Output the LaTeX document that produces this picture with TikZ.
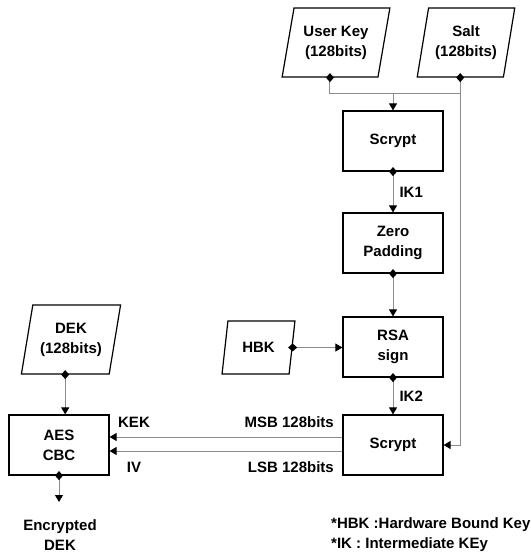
\documentclass[tikz,border=0pt]{standalone}
\usepackage{fontspec}
\setmainfont{Liberation Sans}
\usetikzlibrary{shapes.geometric,arrows.meta,calc}
\definecolor{conngray}{HTML}{8C8C8C}
\tikzset{
  x=1pt,y=-1pt,
  every node/.style={font=\bfseries\fontsize{15}{20}\selectfont,align=center},
  procbox/.style={draw=black,line width=1.2pt,rectangle,minimum width=100pt,minimum height=60pt,inner sep=1pt},
  databox/.style={draw=black,line width=1.2pt,trapezium,trapezium left angle=75,trapezium right angle=105,trapezium stretches=true,inner sep=1pt},
  conn/.style={draw=conngray,line width=1pt},
  arr/.style={-{Triangle[width=8pt,length=7pt,color=black]}},
  dstart/.style={{Diamond[width=8pt,length=9pt,color=black]}-,shorten <=-4.5pt},
  dboth/.style={{Diamond[width=8pt,length=9pt,color=black]}-{Triangle[width=8pt,length=7pt,color=black]},shorten <=-4.5pt},
  lbl/.style={inner sep=0pt}
}
\begin{document}
\begin{tikzpicture}
\useasboundingbox (0,0) rectangle (530,553);
% data inputs
\node[databox,minimum width=108pt,minimum height=69pt] (uk) at (336,42.5) {User Key\\(128bits)};
\node[databox,minimum width=98pt,minimum height=69pt] (salt) at (466,42.5) {Salt\\(128bits)};
\node[databox,minimum width=100pt,minimum height=69pt] (dek) at (71,339.5) {DEK\\(128bits)};
\node[databox,minimum width=73pt,minimum height=53pt] (hbk) at (258.5,347.5) {HBK};
% process boxes
\node[procbox] (s1) at (393,141) {Scrypt};
\node[procbox] (zp) at (393,243) {Zero\\Padding};
\node[procbox] (rsa) at (393,347) {RSA\\sign};
\node[procbox] (s2) at (393,445) {Scrypt};
\node[procbox] (aes) at (59,445) {AES\\CBC};
% outputs and notes
\node[lbl] (enc) at (60,535) {Encrypted\\DEK};
\node[lbl,anchor=west] (n1) at (331,525) {*HBK :Hardware Bound Key};
\node[lbl,anchor=west] (n2) at (331,545) {*IK : Intermediate KEy};
% helper coordinates
\coordinate (ukd) at ($(uk.bottom left corner)!0.5!(uk.bottom right corner)$);
\coordinate (sd) at ($(salt.bottom left corner)!0.5!(salt.bottom right corner)$);
\coordinate (dekd) at ($(dek.bottom left corner)!0.5!(dek.bottom right corner)$);
\coordinate (hbkr) at ($(hbk.bottom right corner)!0.5!(hbk.top right corner)$);
\coordinate (j) at (393,94);
\coordinate (encin) at (59,502);
% connectors
\draw[conn,dstart] (ukd) |- (sd |- j);
\draw[conn,arr] (j) -- (s1.north);
\draw[conn,dboth] (sd) |- (s2.east);
\draw[conn,dboth] (s1.south) -- node[lbl,right=6pt] (ik1) {IK1} (zp.north);
\draw[conn,dboth] (zp.south) -- (rsa.north);
\draw[conn,dboth] (rsa.south) -- node[lbl,right=6pt] (ik2) {IK2} (s2.north);
\draw[conn,dboth] (hbkr) -- (rsa.west |- hbkr);
\draw[conn,dboth] (dekd) -- (dekd |- aes.north);
\draw[conn,arr] ([yshift=8pt]s2.west) -- ([yshift=8pt]aes.east);
\draw[conn,arr] ([yshift=-6pt]s2.west) -- ([yshift=-6pt]aes.east);
\draw[conn,dboth] (aes.south) -- (encin);
% arrow labels
\node[lbl] (kek) at (134,422) {KEK};
\node[lbl,anchor=east] (msb) at (334,422) {MSB 128bits};
\node[lbl] (iv) at (134,467) {IV};
\node[lbl,anchor=east] (lsb) at (334,467) {LSB 128bits};
\end{tikzpicture}
\end{document}
